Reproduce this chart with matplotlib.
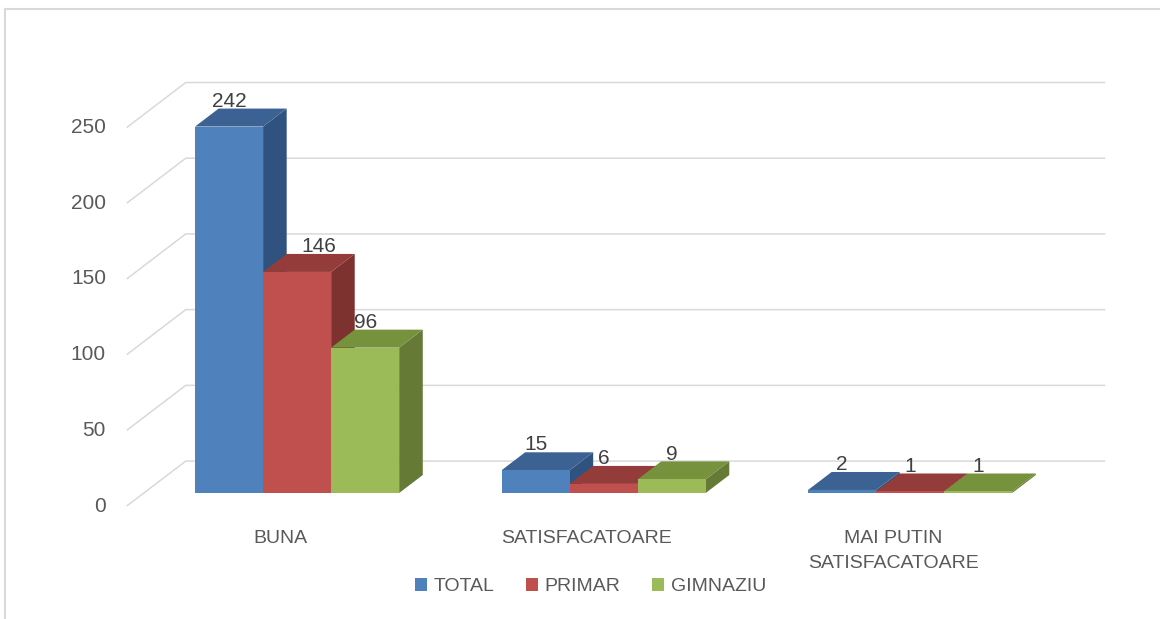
import matplotlib.pyplot as plt
from matplotlib.patches import Polygon, Patch
from matplotlib.lines import Line2D

# data
categories = ["BUNA", "SATISFACATOARE", "MAI PUTIN\nSATISFACATOARE"]
series_names = ["TOTAL", "PRIMAR", "GIMNAZIU"]
total = [242, 15, 2]
primar = [146, 6, 1]
gimnaziu = [96, 9, 1]
yticks = [0, 50, 100, 150, 200, 250]

values = [total, primar, gimnaziu]

# excel-ish colours: front, top, side
front_col = ["#4F81BD", "#C0504D", "#9BBB59"]
top_col = ["#3B6292", "#943C3A", "#76923D"]
side_col = ["#30527E", "#7D3230", "#647A36"]

# pseudo 3d geometry (oblique projection)
DX = 0.1925      # x shift for full depth (category units)
DY = 29.7        # y shift for full depth (value units)
d_front, d_back = 0.29, 0.69
bar_w = 0.222
group_w = 3 * bar_w

fig = plt.figure(figsize=(11.6, 6.19), dpi=100)
ax = fig.add_axes([0, 0, 1, 1])
ax.set_xlim(-0.9135, 2.8711)
ax.set_ylim(-74.6, 334.2)
ax.axis("off")

plt.rcParams["font.family"] = ["Liberation Sans", "DejaVu Sans"]
txt = "#595959"

# back wall gridlines, bent at the left wall
for v in yticks:
    ax.plot([-0.5, -0.5 + DX, 2.5 + DX], [v, v + DY, v + DY],
            color="#d9d9d9", lw=1.1, zorder=1, solid_capstyle="butt")
    ax.text(-0.5 - 0.068, v, str(v), ha="right", va="center",
            fontsize=15, color=txt)


def shift(x, y, d):
    return (x + d * DX, y + d * DY)


label_nudge = {(1, 0): 0.072}  # excel pushed the 146 label right

for i in range(len(categories)):
    left = i - group_w / 2
    for s in range(3):
        v = values[s][i]
        x0 = left + s * bar_w
        x1 = x0 + bar_w
        # side face
        side = [shift(x1, 0, d_front), shift(x1, 0, d_back),
                shift(x1, v, d_back), shift(x1, v, d_front)]
        ax.add_patch(Polygon(side, closed=True, fc=side_col[s], ec="none", zorder=2))
        # top face
        top = [shift(x0, v, d_front), shift(x1, v, d_front),
               shift(x1, v, d_back), shift(x0, v, d_back)]
        ax.add_patch(Polygon(top, closed=True, fc=top_col[s], ec="none", zorder=2))
        # front face
        fr = [shift(x0, 0, d_front), shift(x1, 0, d_front),
              shift(x1, v, d_front), shift(x0, v, d_front)]
        ax.add_patch(Polygon(fr, closed=True, fc=front_col[s], ec="none", zorder=2))

        lx, ly = shift((x0 + x1) / 2, v, d_front)
        lx += label_nudge.get((s, i), 0)
        ly = v + d_back * DY + 1.2
        ax.text(lx, ly, str(v), ha="center", va="baseline",
                fontsize=15, color="#404040", zorder=3)

    ax.text(i, -15.5, categories[i], ha="center", va="top",
            fontsize=14, color=txt, linespacing=1.65)

handles = [Patch(facecolor=c, edgecolor="none") for c in front_col]
fig.legend(handles, series_names, loc="center", bbox_to_anchor=(0.509, 0.052),
           ncol=3, frameon=False, fontsize=14, labelcolor=txt,
           handlelength=0.62, handleheight=0.62, handletextpad=0.36,
           columnspacing=1.6)

# chart border (only top and left visible in the crop)
fig.add_artist(Line2D([5 / 1160, 5 / 1160], [0, 1 - 9 / 619],
                      transform=fig.transFigure, color="#d9d9d9", lw=1.5))
fig.add_artist(Line2D([5 / 1160, 1], [1 - 9 / 619, 1 - 9 / 619],
                      transform=fig.transFigure, color="#d9d9d9", lw=1.5))

fig.savefig("out.png", dpi=100)
